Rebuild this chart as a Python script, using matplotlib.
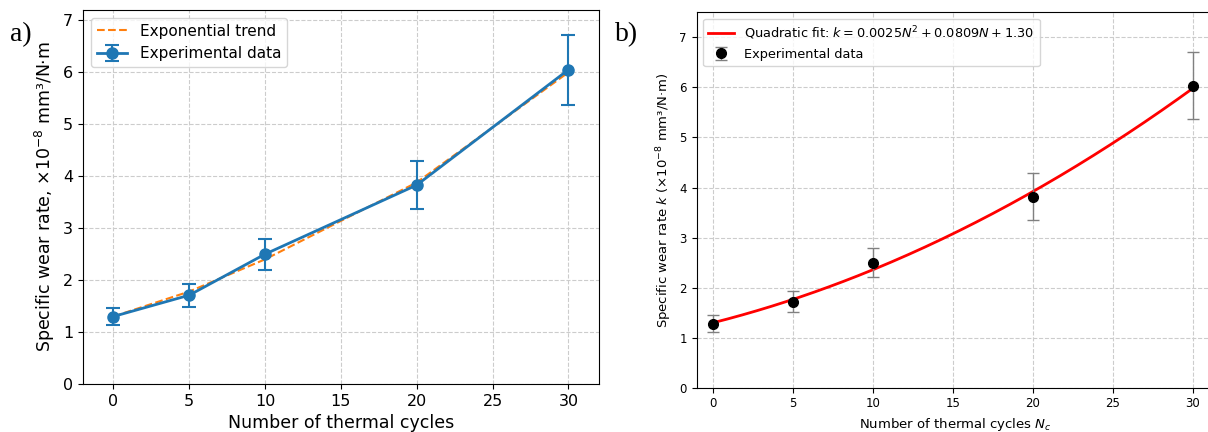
import matplotlib.pyplot as plt
import numpy as np

# data
cycles = [0, 5, 10, 20, 30]
wear_a = [1.30, 1.71, 2.50, 3.83, 6.05]
err_a = [0.17, 0.22, 0.30, 0.46, 0.67]
trend_a = [1.30, 1.78, 2.40, 3.88, 6.00]

wear_b = [1.28, 1.72, 2.50, 3.82, 6.03]
err_b = [0.17, 0.21, 0.29, 0.46, 0.67]
fit_coef = [0.0025, 0.0809, 1.30]

fig = plt.figure(figsize=(12.08, 4.32), dpi=100)
ax1 = fig.add_axes([0.0687, 0.111, 0.427, 0.866])
ax2 = fig.add_axes([0.5767, 0.1025, 0.429, 0.869])

# panel a
ax1.plot(cycles, trend_a, "--", color="#ff7f0e", lw=1.5, label="Exponential trend")
ax1.errorbar(cycles, wear_a, yerr=err_a, fmt="-o", color="#1f77b4", lw=2,
             markersize=8, capsize=5, elinewidth=1.5, capthick=1.5,
             label="Experimental data")
ax1.set_xlim(-2, 32)
ax1.set_ylim(0, 7.2)
ax1.set_xticks(range(0, 31, 5))
ax1.set_yticks(range(0, 8))
ax1.tick_params(labelsize=11.5)
ax1.set_xlabel("Number of thermal cycles", fontsize=12.5)
ax1.set_ylabel("Specific wear rate, ×10$^{-8}$ mm³/N·m", fontsize=12.5)
ax1.grid(True, linestyle="--", color="#cccccc", lw=0.8)
ax1.legend(loc="upper left", fontsize=11)

# panel b
n_fine = np.linspace(0, 30, 200)
ax2.plot(n_fine, np.polyval(fit_coef, n_fine), color="red", lw=2,
         label="Quadratic fit: $k = 0.0025N^2 + 0.0809N + 1.30$")
ax2.errorbar(cycles, wear_b, yerr=err_b, fmt="o", color="black", ecolor="gray",
             markersize=7, capsize=4, elinewidth=1, label="Experimental data")
ax2.set_xlim(-1.05, 31.4)
ax2.set_ylim(0, 7.5)
ax2.set_xticks(range(0, 31, 5))
ax2.set_yticks(range(0, 8))
ax2.tick_params(labelsize=8.5)
ax2.set_xlabel("Number of thermal cycles $N_c$", fontsize=9.5)
ax2.set_ylabel("Specific wear rate $k$ (×10$^{-8}$ mm³/N·m)", fontsize=9.5)
ax2.grid(True, linestyle="--", color="#cccccc", lw=0.8)
ax2.legend(loc="upper left", fontsize=9.3)

fig.text(0.008, 0.905, "a)", fontsize=20, family="Liberation Serif")
fig.text(0.509, 0.905, "b)", fontsize=20, family="Liberation Serif")

fig.savefig("out.png", dpi=100)
